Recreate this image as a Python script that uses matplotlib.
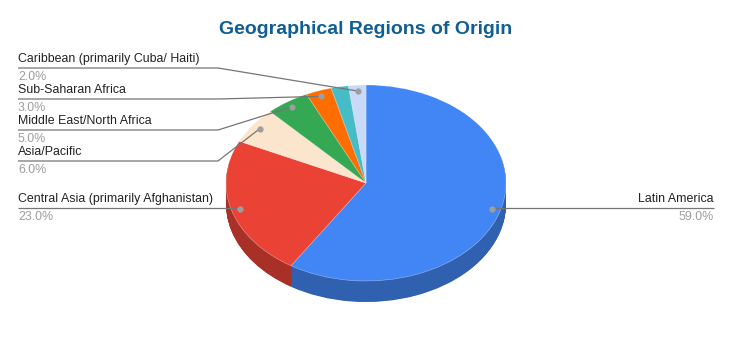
import numpy as np
import matplotlib
matplotlib.use("Agg")
import matplotlib.pyplot as plt

# data
regions = ["Latin America", "Central Asia (primarily Afghanistan)", "Asia/Pacific",
           "Middle East/North Africa", "Sub-Saharan Africa", "Other",
           "Caribbean (primarily Cuba/ Haiti)"]
shares = [59.0, 23.0, 6.0, 5.0, 3.0, 2.0, 2.0]
show_label = [True, True, True, True, True, False, True]
colors = ["#4285f4", "#ea4335", "#fce5cd", "#34a853", "#ff6d01", "#46bdc6", "#c9daf8"]

# label layout (pixels from top-left): side, y of the leader line
label_side = ["right", "left", "left", "left", "left", None, "left"]
label_y = [208, 208, 161, 130, 99, None, 68]

W, H = 732, 351
fig = plt.figure(figsize=(W / 100, H / 100), dpi=100)
plt.rcParams["font.family"] = ["Liberation Sans", "DejaVu Sans"]

# pie axes: top ellipse 280 x 196 px, 21 px deep
rx, ry, depth = 140, 98, 21
cx, cy = 366, 183
dep = depth / ry
ax = fig.add_axes([(cx - rx) / W, (H - (cy + ry + depth)) / H,
                   2 * rx / W, (2 * ry + depth) / H])

def darker(c, f=0.72):
    r, g, b = matplotlib.colors.to_rgb(c)
    return (r * f, g * f, b * f)

side_colors = [darker(c) for c in colors]
for z in np.linspace(dep, 0.005, 40):
    ax.pie(shares, colors=side_colors, startangle=90, counterclock=False,
           center=(0, -z), wedgeprops=dict(linewidth=0))
ax.pie(shares, colors=colors, startangle=90, counterclock=False,
       wedgeprops=dict(linewidth=0.4, edgecolor=(1, 1, 1, 0.5)))
ax.set_aspect("auto")
ax.set_xlim(-1, 1)
ax.set_ylim(-1 - dep, 1)
ax.axis("off")

# overlay in pixel coordinates for labels
ov = fig.add_axes([0, 0, 1, 1], zorder=5)
ov.set_xlim(0, W)
ov.set_ylim(H, 0)
ov.axis("off")

fig.canvas.draw()
to_px = ov.transData.inverted()
start = 90.0
line_c = "#757575"
for name, v, show, side, ly in zip(regions, shares, show_label, label_side, label_y):
    mid = np.deg2rad(start - v * 3.6 / 2)
    start -= v * 3.6
    if not show:
        continue
    dx, dy = to_px.transform(ax.transData.transform((0.94 * np.cos(mid), 0.94 * np.sin(mid))))
    if side == "left":
        x0, xe = 18, 218
        if abs(dy - ly) < 2:
            xs, ys = [x0, dx], [ly, ly]
        else:
            xs, ys = [x0, xe, dx], [ly, ly, dy]
        ha, tx = "left", x0
    else:
        x0 = 714
        xs, ys = [dx, x0], [ly, ly]
        ha, tx = "right", x0
    ov.plot(xs, ys, color=line_c, lw=0.9, solid_capstyle="butt")
    ov.plot([dx], [dy], "o", color="#9e9e9e", ms=4.5, mec="none")
    ov.text(tx, ly - 3, name, ha=ha, va="bottom", fontsize=8.9, color="#222222")
    ov.text(tx, ly + 3, f"{v:.1f}%", ha=ha, va="top", fontsize=8.9, color="#9e9e9e")

fig.text(366 / W, 1 - 30 / H, "Geographical Regions of Origin", ha="center", va="center",
         fontsize=14, fontweight="bold", color="#0f5e96")

fig.savefig("out.png", dpi=100, facecolor="white")
